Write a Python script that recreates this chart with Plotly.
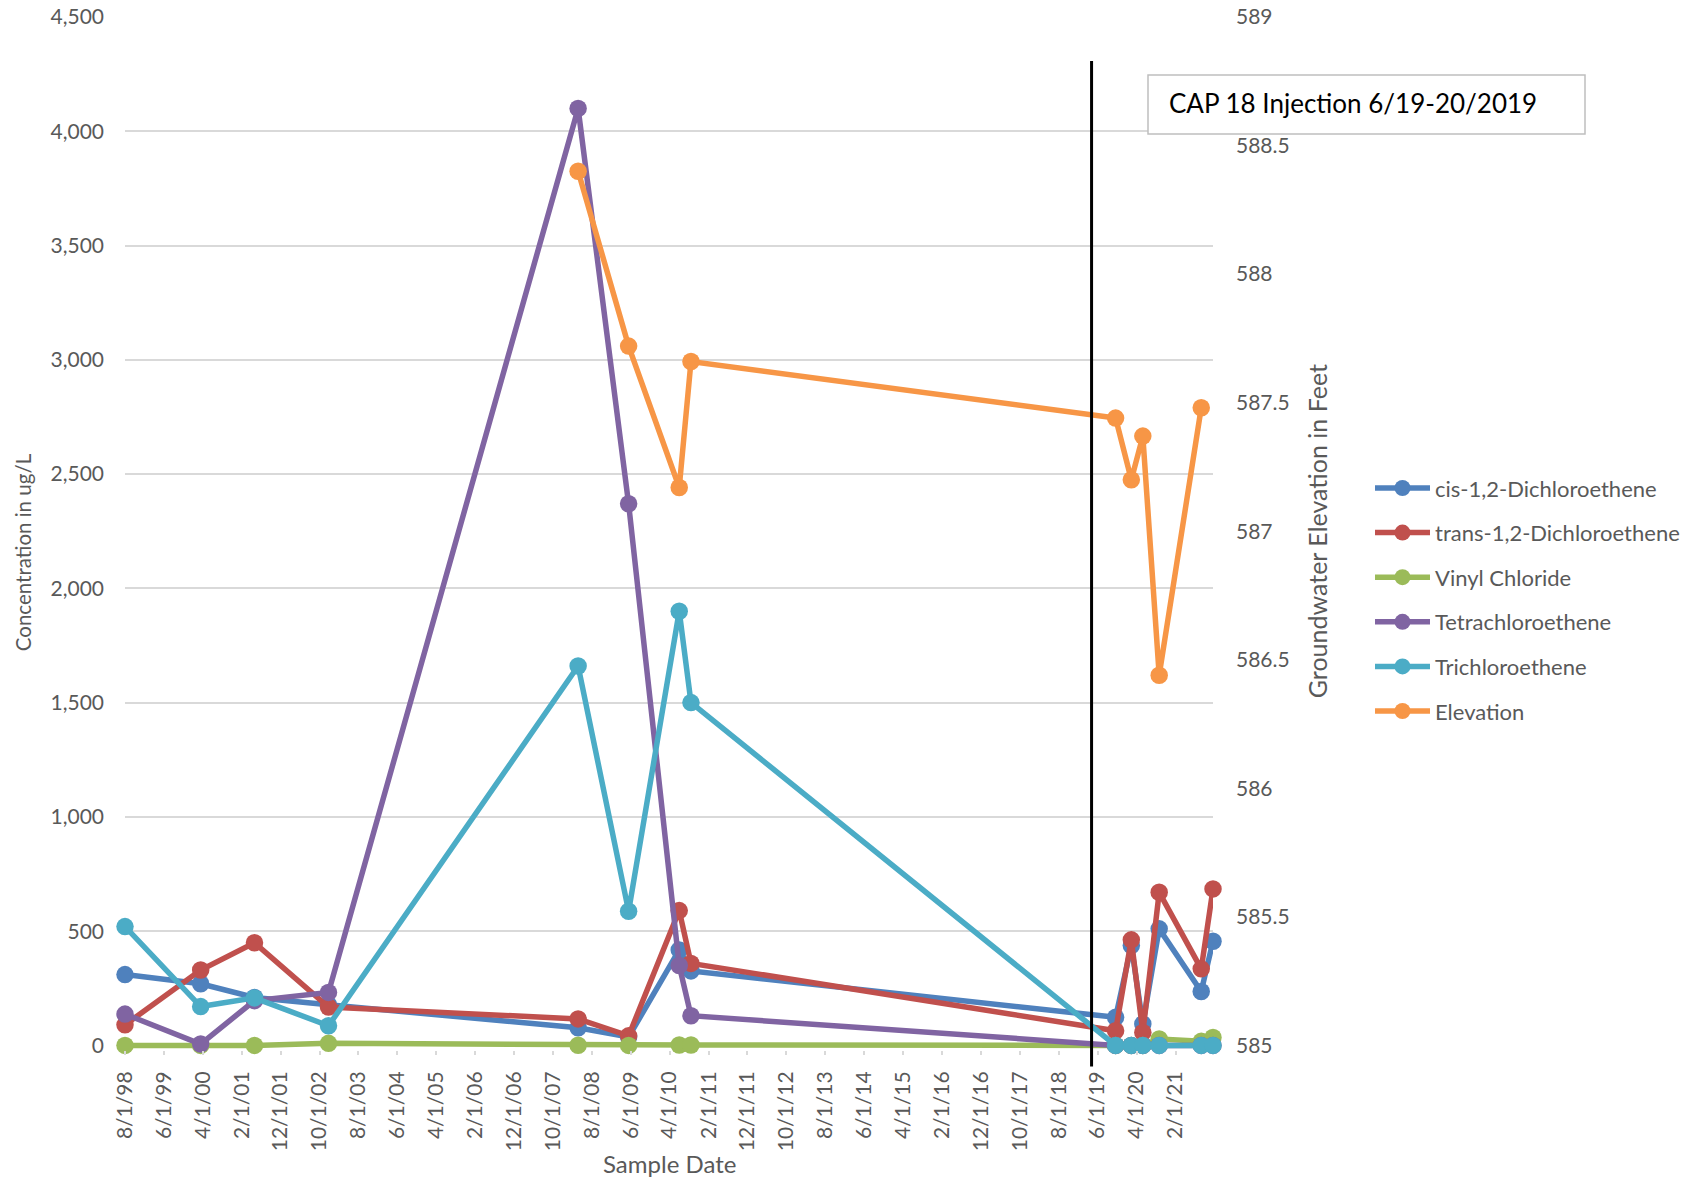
import pandas as pd
import plotly.graph_objects as go

# ---- sample data -------------------------------------------------------
sample_dates = ["1998-08-01", "2000-03-15", "2001-05-10", "2002-12-10",
                "2008-04-15", "2009-05-15", "2010-06-15", "2010-09-15",
                "2019-10-20", "2020-02-20", "2020-05-20", "2020-09-25",
                "2021-08-20", "2021-11-20"]

cis_dce = [310, 270, 210, 178, 77, 37, 418, 326, 123, 437, 94, 510, 236, 456]
trans_dce = [90, 330, 449, 168, 116, 42, 590, 359, 64, 462, 57, 670, 335, 685]
vinyl_chloride = [0, 0, 0, 9, 1, 0, 2, 2, 0, 0, 0, 28, 18, 35]
tetrachloroethene = [137, 6, 196, 232, 4100, 2370, 350, 130, 0, 0, 0, 0, 0, 0]
trichloroethene = [520, 170, 208, 86, 1660, 587, 1900, 1500, 0, 0, 0, 0, 0, 0]

elevation_dates = ["2008-04-15", "2009-05-15", "2010-06-15", "2010-09-15",
                   "2019-10-20", "2020-02-20", "2020-05-20", "2020-09-25",
                   "2021-08-20"]
elevation = [588.40, 587.72, 587.17, 587.66, 587.44, 587.20, 587.37, 586.44, 587.48]

x_tick_labels = ["8/1/98", "6/1/99", "4/1/00", "2/1/01", "12/1/01", "10/1/02",
                 "8/1/03", "6/1/04", "4/1/05", "2/1/06", "12/1/06", "10/1/07",
                 "8/1/08", "6/1/09", "4/1/10", "2/1/11", "12/1/11", "10/1/12",
                 "8/1/13", "6/1/14", "4/1/15", "2/1/16", "12/1/16", "10/1/17",
                 "8/1/18", "6/1/19", "4/1/20", "2/1/21"]

injection_date = "2019-04-15"
injection_label = "CAP 18 Injection 6/19-20/2019"

series = [
    ("cis-1,2-Dichloroethene", cis_dce, "#4F81BD"),
    ("trans-1,2-Dichloroethene", trans_dce, "#C0504D"),
    ("Vinyl Chloride", vinyl_chloride, "#9BBB59"),
    ("Tetrachloroethene", tetrachloroethene, "#8064A2"),
    ("Trichloroethene", trichloroethene, "#4BACC6"),
]
elevation_color = "#F79646"

# axis ranges (a small pad below zero keeps the zero-level lines unclipped)
conc_max, conc_pad = 4500, 20
elev_min, elev_max = 585, 589
elev_pad = conc_pad * (elev_max - elev_min) / conc_max

# ---- layout geometry ---------------------------------------------------
W, H = 1693, 1180
M_L, M_R, M_T = 125, 480, 17
ZERO_PX = 1045          # pixel row of the zero / 585 level
PLOT_H0 = ZERO_PX - M_T
M_B = H - ZERO_PX - PLOT_H0 * conc_pad / conc_max
PW, PH = W - M_L - M_R, H - M_T - M_B


def px_x(px):
    return (px - M_L) / PW


def px_y(py):
    return (H - M_B - py) / PH


FONT = "Lato"
GREY = "#595959"
GRID = "#D9D9D9"
LINE_W = 5.5
MARKER = 17.5

fig = go.Figure()
for name, vals, color in series:
    fig.add_trace(go.Scatter(
        x=pd.to_datetime(sample_dates), y=vals, name=name, mode="lines+markers",
        line=dict(color=color, width=LINE_W), marker=dict(color=color, size=MARKER),
        legendgroup=name, cliponaxis=False, yaxis="y"))

fig.add_trace(go.Scatter(
    x=pd.to_datetime(elevation_dates), y=elevation, name="Elevation",
    mode="lines+markers", line=dict(color=elevation_color, width=LINE_W),
    marker=dict(color=elevation_color, size=MARKER), legendgroup="Elevation",
    cliponaxis=False, yaxis="y2"))

tick_vals = pd.to_datetime(x_tick_labels, format="%m/%d/%y")

fig.update_layout(
    width=W, height=H, autosize=False,
    margin=dict(l=M_L, r=M_R, t=M_T, b=M_B, autoexpand=False),
    paper_bgcolor="white", plot_bgcolor="white",
    font=dict(family=FONT, color=GREY, size=21),
    showlegend=True,
    legend=dict(x=px_x(1370), y=px_y(467), xanchor="left", yanchor="top",
                font=dict(size=22, color=GREY), itemwidth=55,
                tracegroupgap=13, traceorder="grouped",
                bgcolor="rgba(0,0,0,0)"),
    xaxis=dict(type="date", range=[sample_dates[0], sample_dates[-1]],
               tickmode="array", tickvals=tick_vals, ticktext=x_tick_labels,
               tickangle=-90, ticks="outside", ticklen=4, tickcolor=GRID,
               tickwidth=1.5, ticklabelstandoff=8,
               showgrid=False, showline=False,
               zeroline=False, tickfont=dict(size=21, color=GREY)),
    yaxis=dict(range=[-conc_pad, conc_max], tick0=0, dtick=500, tickformat=",",
               showgrid=True, gridcolor=GRID, gridwidth=1.5, zeroline=False,
               showline=False, ticks="", ticklabelstandoff=20,
               tickfont=dict(size=21, color=GREY)),
    yaxis2=dict(range=[elev_min - elev_pad, elev_max], tick0=elev_min, dtick=0.5,
                overlaying="y", side="right",
                showgrid=False, zeroline=False, showline=False, ticks="",
                ticklabelstandoff=22, tickfont=dict(size=21, color=GREY)),
)

# injection marker line
fig.add_shape(type="line", xref="x", yref="paper",
              x0=injection_date, x1=injection_date,
              y0=px_y(1066), y1=px_y(61),
              line=dict(color="black", width=3), layer="above")

# injection text box
fig.add_shape(type="rect", xref="paper", yref="paper",
              x0=px_x(1148), x1=px_x(1585), y0=px_y(134), y1=px_y(75),
              line=dict(color="#BFBFBF", width=1.5), fillcolor="white",
              layer="above")
fig.add_annotation(xref="paper", yref="paper", x=px_x(1167), y=px_y(103),
                   xanchor="left", yanchor="middle", showarrow=False,
                   text=injection_label,
                   font=dict(family=FONT, size=26, color="black"))

# axis titles
fig.add_annotation(xref="paper", yref="paper", x=px_x(669), y=px_y(1163),
                   xanchor="center", yanchor="middle", showarrow=False,
                   text="Sample Date", font=dict(size=24, color=GREY))
fig.add_annotation(xref="paper", yref="paper", x=px_x(23), y=px_y(552),
                   xanchor="center", yanchor="middle", showarrow=False,
                   textangle=-90, text="Concentration in ug/L",
                   font=dict(size=20.5, color=GREY))
fig.add_annotation(xref="paper", yref="paper", x=px_x(1317), y=px_y(531),
                   xanchor="center", yanchor="middle", showarrow=False,
                   textangle=-90, text="Groundwater Elevation in Feet",
                   font=dict(size=25, color=GREY))

fig.write_html("out.html")
